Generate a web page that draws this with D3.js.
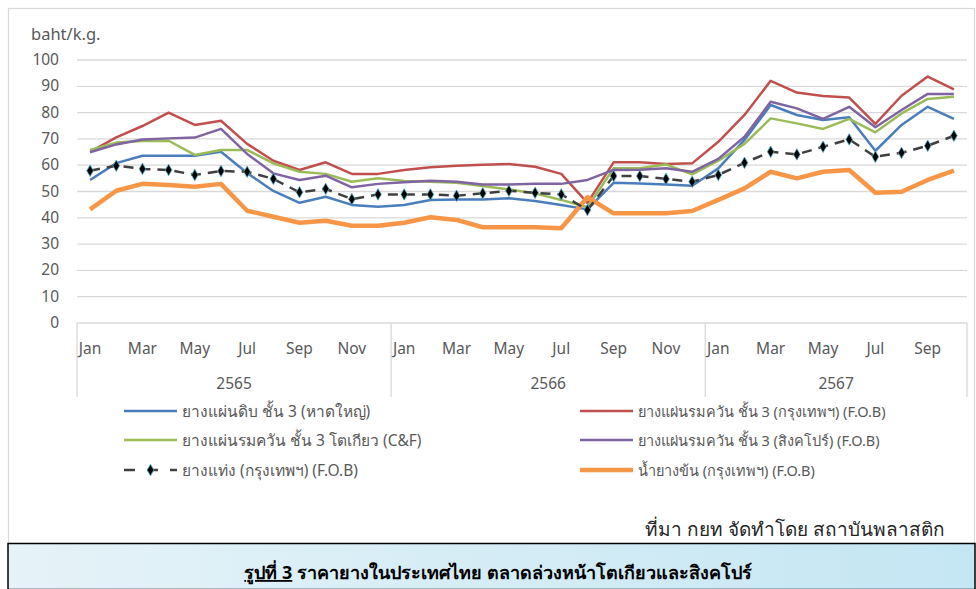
<!DOCTYPE html>
<html>
<head>
<meta charset="utf-8">
<script src="https://cdn.jsdelivr.net/npm/d3@7"></script>
<style>
  body { margin: 0; background: #fff; }
  svg { display: block; }
  text { font-family: "Noto Sans", "Open Sans", sans-serif; }
  .narrow { font-family: "Liberation Sans Narrow", "Arial Narrow", "Noto Sans", sans-serif; }
</style>
</head>
<body>
<div id="chart"></div>
<script>
// months, three Thai years, last point Oct 2567
var monthNames = ["Jan","Feb","Mar","Apr","May","Jun","Jul","Aug","Sep","Oct","Nov","Dec"];
var years = ["2565","2566","2567"];
var monthsPerYear = [12, 12, 10];

var hatYai = [54.4,60.8,63.6,63.6,63.6,65.1,57.0,50.2,45.7,48.0,44.9,44.2,
              44.9,46.8,47.0,47.0,47.4,46.4,44.9,43.2,53.3,53.0,52.7,52.2,
              58.8,69.6,82.9,79.1,77.2,78.2,65.5,75.3,82.2,77.6];
var rssBkk = [65.1,70.6,74.9,80.0,75.3,76.9,68.1,61.7,58.2,61.1,56.7,56.7,
              58.2,59.2,59.8,60.2,60.5,59.4,56.7,45.7,61.1,61.1,60.5,60.7,
              68.9,79.1,92.1,87.6,86.3,85.7,75.7,86.4,93.7,88.8];
var rssTokyo = [65.8,68.6,69.2,69.3,63.9,65.8,65.8,60.7,57.5,56.7,53.7,55.0,
                54.0,53.7,53.3,52.1,50.8,49.3,46.8,44.0,58.8,58.8,60.3,56.5,
                61.7,68.1,77.8,75.9,73.8,77.6,72.5,79.7,85.2,86.0];
var rssSing = [64.9,67.9,69.8,70.2,70.5,73.8,64.3,56.9,54.4,56.0,51.6,52.9,
               53.5,54.1,53.7,52.7,52.7,52.9,52.9,54.4,58.2,58.3,58.8,57.5,
               62.4,70.8,84.1,81.6,77.6,82.2,74.4,81.0,87.1,87.1];
var strBkk = [57.9,59.8,58.6,58.2,56.3,57.8,57.5,54.8,49.7,51.0,47.1,48.9,
              48.9,48.9,48.4,49.3,50.3,49.5,48.9,43.0,55.9,55.9,54.8,53.7,
              56.3,60.9,65.1,64.1,67.0,69.8,63.2,64.7,67.4,71.2];
var latexBkk = [43.2,50.3,52.9,52.5,51.8,52.9,42.7,40.4,38.1,38.9,37.0,37.0,
                38.1,40.2,39.2,36.4,36.4,36.4,36.0,47.8,41.7,41.7,41.7,42.6,
                46.8,51.2,57.5,55.0,57.5,58.2,49.5,49.9,54.4,57.9];

var yTicks = [0,10,20,30,40,50,60,70,80,90,100];

var seriesNames = ["ยางแผ่นดิบ ชั้น 3 (หาดใหญ่)",
                   " ยางแผ่นรมควัน ชั้น 3 (กรุงเทพฯ) (F.O.B)",
                   "ยางแผ่นรมควัน ชั้น 3 โตเกียว (C&F)",
                   "ยางแผ่นรมควัน ชั้น 3 (สิงคโปร์) (F.O.B)",
                   "ยางแท่ง (กรุงเทพฯ) (F.O.B)",
                   "น้ำยางข้น (กรุงเทพฯ) (F.O.B)"];

var categories = [];
years.forEach(function(y, yi){
    for (var m = 0; m < monthsPerYear[yi]; m++) categories.push({year: y, month: monthNames[m], m: m});
});

var series = [
    {name: seriesNames[0], values: hatYai,   color: "#4a7ebb", width: 2.5},
    {name: seriesNames[1], values: rssBkk,   color: "#c0504d", width: 2.5},
    {name: seriesNames[2], values: rssTokyo, color: "#9bbb59", width: 2.5},
    {name: seriesNames[3], values: rssSing,  color: "#8064a2", width: 2.5},
    {name: seriesNames[4], values: strBkk,   color: "#404040", width: 2.5, dash: "10,7", marker: true},
    {name: seriesNames[5], values: latexBkk, color: "#f79646", width: 4.5}
];

var W = 976, H = 589;
var svg = d3.select("#chart").append("svg").attr("width", W).attr("height", H);

// outer chart frame
svg.append("rect").attr("x", 8.5).attr("y", 8.5).attr("width", 966).attr("height", 540)
    .attr("fill", "#fff").attr("stroke", "#d9d9d9").attr("stroke-width", 1.2);

var x = d3.scaleBand().domain(d3.range(categories.length)).range([77, 967]).padding(0);
var y = d3.scaleLinear().domain([0, 100]).range([323, 60]);
var cx = function(i){ return x(i) + x.bandwidth() / 2; };

// gridlines + y labels
svg.append("g").selectAll("line").data(yTicks.filter(function(d){ return d > 0; })).enter()
    .append("line")
    .attr("x1", 77).attr("x2", 967)
    .attr("y1", function(d){ return y(d); }).attr("y2", function(d){ return y(d); })
    .attr("stroke", "#d9d9d9").attr("stroke-width", 1.3);

svg.append("g").selectAll("text").data(yTicks).enter()
    .append("text")
    .attr("x", 59).attr("y", function(d){ return y(d) + 5; })
    .attr("text-anchor", "end").attr("font-size", 15.5).attr("fill", "#595959")
    .text(function(d){ return d; });

svg.append("text").attr("x", 31).attr("y", 40).attr("font-size", 16.5).attr("fill", "#595959")
    .text("baht/k.g.");

// category axis box
var axisG = svg.append("g").attr("stroke", "#d9d9d9").attr("stroke-width", 1.3);
axisG.append("line").attr("x1", 77).attr("x2", 967).attr("y1", 323).attr("y2", 323);
var start = 0, bounds = [77];
monthsPerYear.forEach(function(n){ start += n; bounds.push(x(start - 1) + x.bandwidth()); });
bounds.forEach(function(b){
    axisG.append("line").attr("x1", b).attr("x2", b).attr("y1", 323).attr("y2", 397);
});

svg.append("g").selectAll("text").data(categories.filter(function(c){ return c.m % 2 === 0; })).enter()
    .append("text").attr("class", "narrow")
    .attr("x", function(c){ return cx(categories.indexOf(c)); })
    .attr("y", 354).attr("text-anchor", "middle").attr("font-size", 15.5).attr("fill", "#595959")
    .text(function(c){ return c.month; });

svg.append("g").selectAll("text").data(years).enter()
    .append("text").attr("class", "narrow")
    .attr("x", function(d, i){ return (bounds[i] + bounds[i + 1]) / 2; })
    .attr("y", 389).attr("text-anchor", "middle").attr("font-size", 15.5).attr("fill", "#595959")
    .text(function(d){ return d; });

// lines
var line = d3.line().x(function(d, i){ return cx(i); }).y(function(d){ return y(d); });
var drawOrder = [0, 1, 2, 3, 5, 4];
drawOrder.forEach(function(k){
    var s = series[k];
    svg.append("path").datum(s.values)
        .attr("d", line).attr("fill", "none")
        .attr("stroke", s.color).attr("stroke-width", s.width)
        .attr("stroke-dasharray", s.dash || null)
        .attr("stroke-linejoin", "round");
    if (s.marker) {
        svg.append("g").selectAll("path").data(s.values).enter()
            .append("path")
            .attr("d", d3.symbol().type(d3.symbolDiamond).size(38))
            .attr("transform", function(d, i){ return "translate(" + cx(i) + "," + y(d) + ")"; })
            .attr("fill", "#000").attr("stroke", "#4bacc6").attr("stroke-width", 0.8);
    }
});

// legend
var legendPos = [[124, 411], [580, 411], [124, 440], [580, 440], [124, 470], [580, 470]];
series.forEach(function(s, k){
    var p = legendPos[k];
    var g = svg.append("g").attr("transform", "translate(" + p[0] + "," + p[1] + ")");
    g.append("line").attr("x1", 0).attr("x2", 53).attr("y1", 0).attr("y2", 0)
        .attr("stroke", s.color).attr("stroke-width", s.width)
        .attr("stroke-dasharray", s.dash ? "11,12" : null);
    if (s.marker) {
        g.append("path").attr("d", d3.symbol().type(d3.symbolDiamond).size(38))
            .attr("transform", "translate(26.5,0)")
            .attr("fill", "#000").attr("stroke", "#4bacc6").attr("stroke-width", 0.8);
    }
    g.append("text").attr("x", 58).attr("y", 5.5).attr("font-size", k % 2 ? 14.5 : 15.5).attr("fill", "#595959")
        .text(s.name);
});

// source
svg.append("text").attr("class", "narrow").attr("x", 945).attr("y", 536)
    .attr("text-anchor", "end").attr("font-size", 19).attr("fill", "#262626")
    .text("ที่มา กยท จัดทำโดย สถาบันพลาสติก");

// caption box
var grad = svg.append("defs").append("linearGradient").attr("id", "capGrad")
    .attr("x1", "0%").attr("x2", "100%").attr("y1", "0%").attr("y2", "0%");
grad.append("stop").attr("offset", "0%").attr("stop-color", "#e6f3f8");
grad.append("stop").attr("offset", "100%").attr("stop-color", "#c4e6f3");
svg.append("rect").attr("x", 8).attr("y", 543.5).attr("width", 967).attr("height", 46)
    .attr("fill", "url(#capGrad)").attr("stroke", "#000").attr("stroke-width", 1.5);

var cap = svg.append("text").attr("class", "narrow").attr("x", 498).attr("y", 579)
    .attr("text-anchor", "middle").attr("font-size", 18).attr("font-weight", "bold").attr("fill", "#000");
cap.append("tspan").attr("text-decoration", "underline").text("รูปที่ 3");
cap.append("tspan").text(" ราคายางในประเทศไทย ตลาดล่วงหน้าโตเกียวและสิงคโปร์");
</script>
</body>
</html>
